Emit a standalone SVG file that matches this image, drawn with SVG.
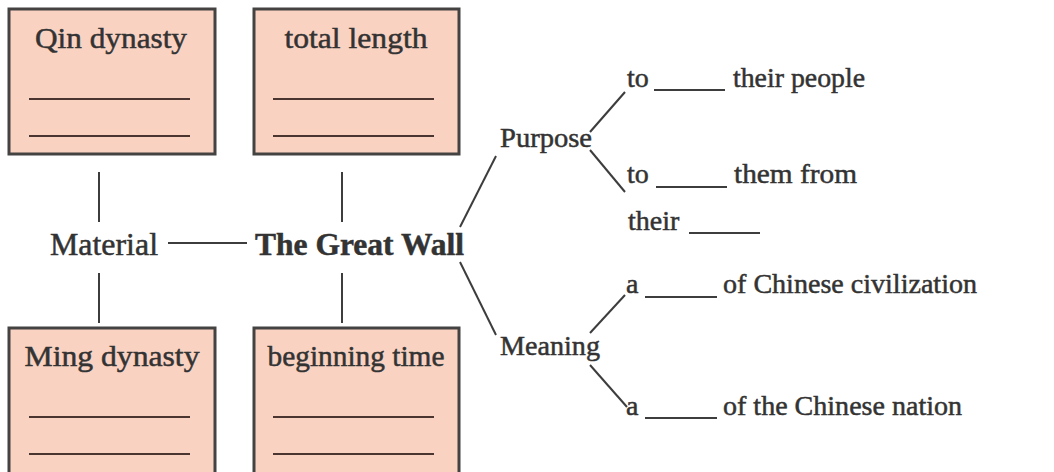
<svg xmlns="http://www.w3.org/2000/svg" width="1054" height="472" viewBox="0 0 1054 472">
<style>
.box{fill:#f9d2c2;stroke:#454242;stroke-width:3}
.bl{stroke:#4a3530;stroke-width:2}
.ln{stroke:#3d3d3d;stroke-width:2;fill:none}
text{font-family:"Liberation Serif","Times New Roman",serif;fill:#333;stroke:#333;stroke-width:0.5}
.bt{font-size:30px;text-anchor:middle}
.ct{font-size:31px}
.rt{font-size:28px}
</style>
<rect width="1054" height="472" fill="#fff"/>
<g id="node-qin">
<rect class="box" x="9" y="9" width="206" height="145"/>
<text class="bt" x="111" y="48" textLength="152" lengthAdjust="spacingAndGlyphs">Qin dynasty</text>
<line class="bl" x1="29" y1="99" x2="190" y2="99"/>
<line class="bl" x1="29" y1="136" x2="190" y2="136"/>
</g>
<g id="node-length">
<rect class="box" x="254" y="9" width="205" height="145"/>
<text class="bt" x="356" y="48" textLength="143" lengthAdjust="spacingAndGlyphs">total length</text>
<line class="bl" x1="273" y1="99" x2="434" y2="99"/>
<line class="bl" x1="273" y1="136" x2="434" y2="136"/>
</g>
<g id="node-ming">
<rect class="box" x="9" y="328" width="206" height="150"/>
<text class="bt" x="112" y="366" textLength="175" lengthAdjust="spacingAndGlyphs">Ming dynasty</text>
<line class="bl" x1="29" y1="417" x2="190" y2="417"/>
<line class="bl" x1="29" y1="454" x2="190" y2="454"/>
</g>
<g id="node-beginning">
<rect class="box" x="254" y="328" width="205" height="150"/>
<text class="bt" x="356" y="366" textLength="177" lengthAdjust="spacingAndGlyphs">beginning time</text>
<line class="bl" x1="273" y1="417" x2="434" y2="417"/>
<line class="bl" x1="273" y1="454" x2="434" y2="454"/>
</g>
<g id="node-material">
<text class="ct" x="50" y="255" textLength="108" lengthAdjust="spacingAndGlyphs">Material</text>
</g>
<g id="node-wall">
<text class="ct" x="255" y="255" font-weight="bold" textLength="209" lengthAdjust="spacingAndGlyphs">The Great Wall</text>
</g>
<g id="node-purpose">
<text class="rt" x="500" y="147" textLength="92" lengthAdjust="spacingAndGlyphs">Purpose</text>
</g>
<g id="node-meaning">
<text class="rt" x="500" y="355" textLength="100" lengthAdjust="spacingAndGlyphs">Meaning</text>
</g>
<g id="node-p1">
<text class="rt" x="627" y="87">to</text>
<line class="ln" x1="654" y1="90" x2="725" y2="90"/>
<text class="rt" x="733" y="87" textLength="132" lengthAdjust="spacingAndGlyphs">their people</text>
</g>
<g id="node-p2">
<text class="rt" x="627" y="183">to</text>
<line class="ln" x1="656" y1="187" x2="727" y2="187"/>
<text class="rt" x="734" y="183" textLength="123" lengthAdjust="spacingAndGlyphs">them from</text>
<text class="rt" x="628" y="230">their</text>
<line class="ln" x1="689" y1="233" x2="760" y2="233"/>
</g>
<g id="node-m1">
<text class="rt" x="626" y="293">a</text>
<line class="ln" x1="645" y1="297" x2="717" y2="297"/>
<text class="rt" x="723" y="293" textLength="254" lengthAdjust="spacingAndGlyphs">of Chinese civilization</text>
</g>
<g id="node-m2">
<text class="rt" x="626" y="415">a</text>
<line class="ln" x1="645" y1="418" x2="717" y2="418"/>
<text class="rt" x="723" y="415" textLength="239" lengthAdjust="spacingAndGlyphs">of the Chinese nation</text>
</g>
<g id="connectors" class="ln">
<line x1="99" y1="172" x2="99" y2="222"/>
<line x1="99" y1="273" x2="99" y2="323"/>
<line x1="342" y1="172" x2="342" y2="222"/>
<line x1="342" y1="273" x2="342" y2="323"/>
<line x1="168" y1="243" x2="247" y2="243"/>
<line x1="460" y1="227" x2="496" y2="156"/>
<line x1="460" y1="262" x2="496" y2="335"/>
<line x1="590" y1="132" x2="625" y2="92"/>
<line x1="590" y1="150" x2="625" y2="192"/>
<line x1="590" y1="333" x2="625" y2="295"/>
<line x1="590" y1="365" x2="627" y2="407"/>
</g>
</svg>
